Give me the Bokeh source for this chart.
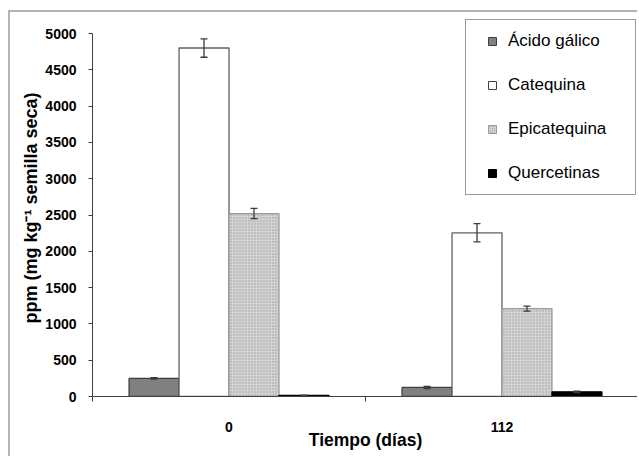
from bokeh.plotting import figure
from bokeh.models import ColumnDataSource, FixedTicker, Whisker, TeeHead, Legend, LegendItem, Range1d
from bokeh.embed import file_html
from bokeh.resources import INLINE

# ---- data ----
tiempo = ["0", "112"]
compuestos = ["Ácido gálico", "Catequina", "Epicatequina", "Quercetinas"]
acido_galico = [250, 125]
acido_galico_err = [10, 15]
catequina = [4800, 2255]
catequina_err = [127, 125]
epicatequina = [2520, 1210]
epicatequina_err = [70, 35]
quercetinas = [15, 65]
quercetinas_err = [5, 10]
y_ticks = [0, 500, 1000, 1500, 2000, 2500, 3000, 3500, 4000, 4500, 5000]

series = [acido_galico, catequina, epicatequina, quercetinas]
errors = [acido_galico_err, catequina_err, epicatequina_err, quercetinas_err]

# ---- styles / layout ----
fills = ["#808080", "#ffffff", "#d2d2d2", "#000000"]
lines = ["#404040", "#606060", "#9a9a9a", "#000000"]
leg_lines = ["#404040", "#404040", "#9a9a9a", "#000000"]
hatches = [None, None, "dot", None]
bar_w = 0.183
FONT = "Liberation Sans"
AX = "#404040"

W, H = 629, 446
MB_TOP, MB_BOTTOM, MB_LEFT, MB_RIGHT = 7, 62, 82, 1
frame_h = H - MB_TOP - MB_BOTTOM
y_end = y_ticks[-1] * frame_h / (frame_h - 14)   # leave room above the top tick for the legend

p = figure(width=W, height=H, x_range=Range1d(0, len(tiempo)), y_range=Range1d(0, y_end),
           output_backend="svg", toolbar_location=None,
           min_border_left=MB_LEFT, min_border_top=MB_TOP, min_border_right=MB_RIGHT,
           min_border_bottom=MB_BOTTOM)
p.margin = (10, 0, 0, 8)
p.styles = {"border-left": "2px solid #b4b4b4", "border-top": "2px solid #b4b4b4"}
p.outline_line_color = None
p.xgrid.visible = False
p.ygrid.visible = False
p.background_fill_color = "white"
p.border_fill_color = "white"

legend_items = []
for k, (vals, errs) in enumerate(zip(series, errors)):
    off = (k - (len(series) - 1) / 2) * bar_w
    xs = [i + 0.5 + off for i in range(len(tiempo))]
    src = ColumnDataSource(dict(x=xs, top=vals,
                                upper=[v + e for v, e in zip(vals, errs)],
                                lower=[v - e for v, e in zip(vals, errs)]))
    kw = dict(fill_color=fills[k], line_color=lines[k], line_width=1.3)
    if hatches[k]:
        kw.update(hatch_pattern=hatches[k], hatch_color="#a0a0a0", hatch_scale=3, hatch_weight=1)
    p.vbar(x="x", top="top", width=bar_w, bottom=0, source=src, **kw)
    w = Whisker(source=src, base="x", upper="upper", lower="lower",
                line_color="#3a3a3a", line_width=1.3,
                upper_head=TeeHead(size=7, line_color="#3a3a3a", line_width=1.3),
                lower_head=TeeHead(size=7, line_color="#3a3a3a", line_width=1.3))
    w.level = "overlay"
    p.add_layout(w)
    # legend swatch (hidden marker renderer, only its legend glyph is shown)
    lkw = dict(fill_color=fills[k], line_color=leg_lines[k], line_width=1)
    if hatches[k]:
        lkw.update(hatch_pattern=hatches[k], hatch_color="#a0a0a0", hatch_scale=2, hatch_weight=1)
    lr = p.scatter(x="x", y="top", source=src, marker="square", size=8, **lkw)
    lr.visible = False
    legend_items.append(LegendItem(label=compuestos[k], renderers=[lr]))

legend = Legend(items=legend_items, location=(373, 201), margin=0, padding=11, spacing=24,
                label_height=20, glyph_height=20, glyph_width=30, label_standoff=1, label_width=116,
                border_line_color="#333333", border_line_width=1, background_fill_color="white",
                inactive_fill_alpha=0.0,
                label_text_font=FONT, label_text_font_size="17px", label_text_color="black")
p.add_layout(legend)

# y axis
ya = p.yaxis[0]
ya.ticker = FixedTicker(ticks=y_ticks)
ya.bounds = (y_ticks[0], y_ticks[-1])
ya.axis_label = "ppm (mg kg\u207b\u00b9 semilla seca)"
ya.axis_label_text_font = FONT
ya.axis_label_text_font_style = "bold"
ya.axis_label_text_font_size = "18px"
ya.axis_label_text_color = "black"
ya.axis_label_standoff = 1
ya.major_label_text_font = FONT
ya.major_label_text_font_style = "bold"
ya.major_label_text_font_size = "14px"
ya.major_label_text_color = "black"
ya.major_label_standoff = 12
ya.axis_line_color = AX
ya.major_tick_line_color = AX
ya.major_tick_out = 4
ya.major_tick_in = 0
ya.minor_tick_line_color = None

# x axis
xa = p.xaxis[0]
xa.ticker = FixedTicker(ticks=[i + 0.5 for i in range(len(tiempo))],
                        minor_ticks=list(range(len(tiempo) + 1)))
xa.major_label_overrides = {i + 0.5: t for i, t in enumerate(tiempo)}
xa.axis_label = "Tiempo (días)"
xa.axis_label_text_font = FONT
xa.axis_label_text_font_style = "bold"
xa.axis_label_text_font_size = "17.5px"
xa.axis_label_text_color = "black"
xa.axis_label_standoff = -5
xa.major_label_text_font = FONT
xa.major_label_text_font_style = "bold"
xa.major_label_text_font_size = "14px"
xa.major_label_text_color = "black"
xa.major_label_standoff = 20
xa.axis_line_color = AX
xa.major_tick_line_color = None
xa.major_tick_out = 0
xa.major_tick_in = 0
xa.minor_tick_line_color = AX
xa.minor_tick_out = 5
xa.minor_tick_in = 0

open("out.html", "w").write(file_html(p, INLINE))
